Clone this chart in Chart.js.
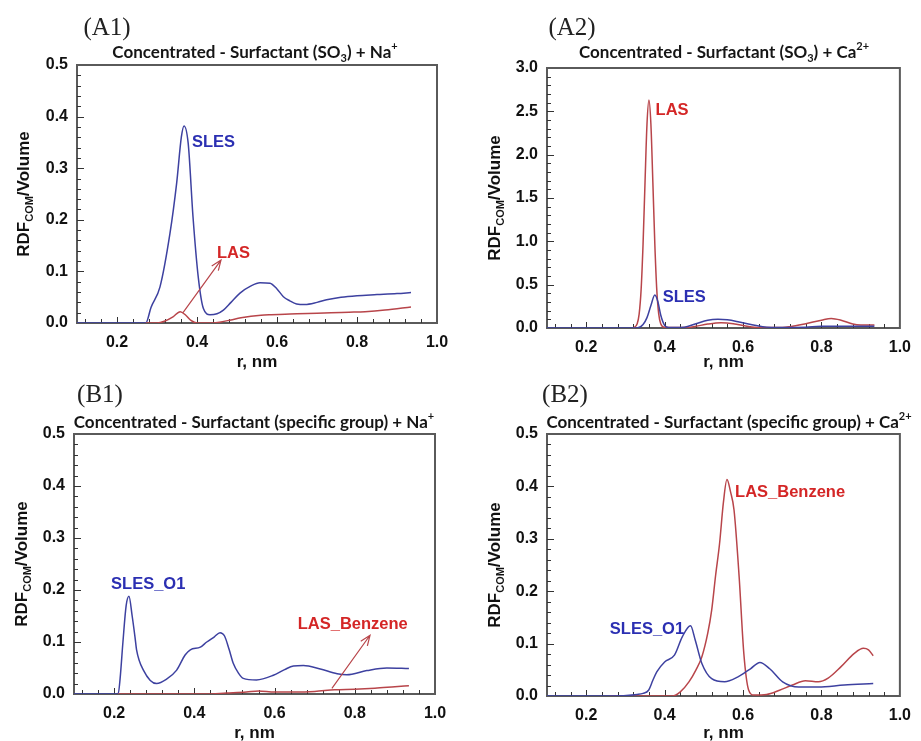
<!DOCTYPE html>
<html>
<head>
<meta charset="utf-8">
<script src="https://cdn.jsdelivr.net/npm/chart.js@4.4.1/dist/chart.umd.min.js"></script>
<style>
  html, body { margin: 0; padding: 0; background: #fff; }
  #fig { position: relative; width: 921px; height: 741px; overflow: hidden; background: #fff; }
  canvas { position: absolute; }
</style>
</head>
<body>
<div id="fig">
  <canvas id="pA1" width="460" height="370" style="left:0;top:0;width:460px;height:370px"></canvas>
  <canvas id="pA2" width="461" height="370" style="left:460px;top:0;width:461px;height:370px"></canvas>
  <canvas id="pB1" width="460" height="371" style="left:0;top:370px;width:460px;height:371px"></canvas>
  <canvas id="pB2" width="461" height="371" style="left:460px;top:370px;width:461px;height:371px"></canvas>
</div>
<script>
// ---- tick labels ----
const xTickValues = [0.2, 0.4, 0.6, 0.8, 1.0];
const yTicksSmall = [0.0, 0.1, 0.2, 0.3, 0.4, 0.5];
const yTicksLarge = [0.0, 0.5, 1.0, 1.5, 2.0, 2.5, 3.0];

// ---- (A1) SO3 + Na+ ----
const a1SlesR = [0.10, 0.272, 0.285, 0.3075, 0.3325, 0.349, 0.361, 0.3675, 0.378, 0.39, 0.403, 0.416, 0.4325, 0.45, 0.466, 0.485, 0.5075, 0.535, 0.5575, 0.5825, 0.60, 0.616, 0.632, 0.649, 0.67, 0.70, 0.724, 0.76, 0.80, 0.85, 0.90, 0.935];
const a1Sles  = [0, 0, 0.03, 0.07, 0.174, 0.27, 0.361, 0.382, 0.348, 0.206, 0.09, 0.028, 0.016, 0.018, 0.025, 0.04, 0.058, 0.072, 0.078, 0.077, 0.066, 0.051, 0.043, 0.037, 0.036, 0.04, 0.045, 0.05, 0.053, 0.055, 0.057, 0.059];
const a1LasR  = [0.272, 0.30, 0.32, 0.34, 0.358, 0.372, 0.385, 0.40, 0.44, 0.46, 0.485, 0.51, 0.535, 0.56, 0.585, 0.62, 0.65, 0.70, 0.735, 0.78, 0.82, 0.87, 0.935];
const a1Las   = [0, 0, 0.004, 0.012, 0.022, 0.015, 0.005, 0, 0, 0.002, 0.006, 0.01, 0.013, 0.015, 0.016, 0.017, 0.018, 0.019, 0.02, 0.021, 0.022, 0.025, 0.031];

// ---- (A2) SO3 + Ca2+ ----
const a2LasR  = [0.32, 0.33, 0.335, 0.34, 0.345, 0.35, 0.355, 0.36, 0.365, 0.37, 0.375, 0.38, 0.385, 0.39, 0.40, 0.46, 0.48, 0.51, 0.544, 0.575, 0.61, 0.64, 0.70, 0.72, 0.76, 0.80, 0.825, 0.85, 0.88, 0.90, 0.935];
const a2Las   = [0, 0.05, 0.16, 0.44, 0.97, 1.68, 2.35, 2.63, 2.35, 1.68, 0.97, 0.44, 0.16, 0.05, 0.01, 0.005, 0.02, 0.045, 0.06, 0.05, 0.02, 0.005, 0.005, 0.015, 0.05, 0.09, 0.11, 0.09, 0.045, 0.035, 0.035];
const a2SlesR = [0.10, 0.33, 0.345, 0.355, 0.365, 0.375, 0.383, 0.39, 0.40, 0.41, 0.45, 0.48, 0.51, 0.536, 0.56, 0.59, 0.62, 0.65, 0.70, 0.76, 0.80, 0.935];
const a2Sles  = [0, 0, 0.04, 0.12, 0.26, 0.38, 0.3, 0.15, 0.03, 0.005, 0.01, 0.05, 0.09, 0.10, 0.095, 0.07, 0.04, 0.015, 0.005, 0.01, 0.02, 0.02];

// ---- (B1) specific group + Na+ ----
const b1SlesR = [0.10, 0.21, 0.215, 0.222, 0.23, 0.237, 0.245, 0.252, 0.256, 0.273, 0.306, 0.33, 0.356, 0.377, 0.39, 0.415, 0.431, 0.45, 0.464, 0.475, 0.487, 0.497, 0.51, 0.522, 0.555, 0.597, 0.625, 0.647, 0.672, 0.714, 0.756, 0.78, 0.83, 0.88, 0.935];
const b1Sles  = [0, 0, 0.03, 0.10, 0.17, 0.188, 0.15, 0.11, 0.085, 0.046, 0.02, 0.028, 0.046, 0.075, 0.085, 0.09, 0.10, 0.11, 0.118, 0.112, 0.085, 0.059, 0.04, 0.03, 0.027, 0.036, 0.047, 0.054, 0.055, 0.048, 0.039, 0.037, 0.045, 0.05, 0.049];
const b1BenzR = [0.21, 0.43, 0.48, 0.53, 0.56, 0.60, 0.65, 0.70, 0.75, 0.80, 0.85, 0.90, 0.935];
const b1Benz  = [0, 0, 0.002, 0.004, 0.006, 0.004, 0.004, 0.005, 0.008, 0.009, 0.011, 0.014, 0.016];

// ---- (B2) specific group + Ca2+ ----
const b2BenzR = [0.26, 0.42, 0.44, 0.462, 0.48, 0.495, 0.51, 0.52, 0.53, 0.54, 0.55, 0.559, 0.568, 0.577, 0.59, 0.602, 0.614, 0.627, 0.66, 0.693, 0.726, 0.759, 0.792, 0.817, 0.85, 0.883, 0.907, 0.92, 0.932];
const b2Benz  = [0, 0, 0.008, 0.027, 0.05, 0.075, 0.12, 0.164, 0.23, 0.29, 0.37, 0.413, 0.39, 0.355, 0.228, 0.081, 0.012, 0.002, 0.003, 0.011, 0.021, 0.029, 0.027, 0.034, 0.056, 0.081, 0.091, 0.088, 0.077];
const b2SlesR = [0.10, 0.26, 0.33, 0.345, 0.359, 0.37, 0.38, 0.40, 0.425, 0.445, 0.466, 0.478, 0.495, 0.52, 0.553, 0.586, 0.619, 0.643, 0.668, 0.701, 0.742, 0.792, 0.858, 0.932];
const b2Sles  = [0, 0, 0.003, 0.005, 0.011, 0.03, 0.046, 0.065, 0.078, 0.113, 0.134, 0.107, 0.062, 0.033, 0.027, 0.036, 0.052, 0.064, 0.052, 0.027, 0.017, 0.017, 0.021, 0.024];

// ---- styling ----
const BLUE_LINE = '#3d41a0';
const RED_LINE = '#b8454a';
const BLUE_TEXT = '#2b2fb2';
const RED_TEXT = '#d42626';
const SANS = '"Liberation Sans", Arial, sans-serif';
const TITLE_FAMILY = 'Lato, "Open Sans", sans-serif';

// Draws a run of text pieces with optional sub/superscripts, centred on (cx, cy).
function drawRich(ctx, parts, cx, cy, size, family, weight, color) {
  const small = Math.round(size * 0.62);
  const fontOf = p => `${weight} ${p.sub || p.sup ? small : size}px ${family}`;
  let total = 0;
  parts.forEach(p => { ctx.font = fontOf(p); total += ctx.measureText(p.t).width; });
  let x = cx - total / 2;
  ctx.fillStyle = color;
  ctx.textAlign = 'left';
  ctx.textBaseline = 'alphabetic';
  const base = cy + size * 0.35;
  parts.forEach(p => {
    ctx.font = fontOf(p);
    let y = base;
    if (p.sub) y = base + size * 0.22;
    if (p.sup) y = base - size * 0.45;
    ctx.fillText(p.t, x, y);
    x += ctx.measureText(p.t).width;
  });
}

function drawArrow(ctx, x0, y0, x1, y1, color) {
  const ang = Math.atan2(y1 - y0, x1 - x0);
  const len = 11, spread = 0.38;
  ctx.save();
  ctx.strokeStyle = color;
  ctx.lineWidth = 1.2;
  ctx.beginPath();
  ctx.moveTo(x0, y0); ctx.lineTo(x1, y1);
  ctx.moveTo(x1 - len * Math.cos(ang - spread), y1 - len * Math.sin(ang - spread));
  ctx.lineTo(x1, y1);
  ctx.lineTo(x1 - len * Math.cos(ang + spread), y1 - len * Math.sin(ang + spread));
  ctx.stroke();
  ctx.restore();
}

// Frame, inward tick marks and all the figure text around each panel.
const decorPlugin = {
  id: 'decor',
  beforeDatasetsDraw(chart) {
    const { ctx, chartArea: a, scales: { x, y } } = chart;
    const cfg = chart.options.plugins.decor;
    ctx.save();
    // plot frame
    ctx.strokeStyle = '#5a5a5a';
    ctx.lineWidth = 2;
    ctx.strokeRect(a.left, a.top, a.right - a.left, a.bottom - a.top);

    ctx.strokeStyle = '#333';
    ctx.lineWidth = 1;
    // x ticks every 0.04, long ones at labelled values
    for (let k = 3; k <= 24; k++) {
      const v = k * 0.04;
      const major = xTickValues.some(t => Math.abs(t - v) < 1e-6);
      const px = Math.round(x.getPixelForValue(v)) + 0.5;
      ctx.beginPath();
      ctx.moveTo(px, a.bottom);
      ctx.lineTo(px, a.bottom - (major ? 6 : 4));
      ctx.stroke();
    }
    // y ticks: four minor ticks between labelled values
    const yt = cfg.yTicks;
    const step = (yt[1] - yt[0]) / 5;
    for (let k = 1; k < (yt.length - 1) * 5; k++) {
      const v = k * step;
      const major = k % 5 === 0;
      const py = Math.round(y.getPixelForValue(v)) + 0.5;
      ctx.beginPath();
      ctx.moveTo(a.left, py);
      ctx.lineTo(a.left + (major ? 7 : 4), py);
      ctx.stroke();
    }
    ctx.restore();
  },
  afterDatasetsDraw(chart) {
    const { ctx, chartArea: a, scales: { x, y } } = chart;
    const cfg = chart.options.plugins.decor;
    ctx.save();

    // arrows and curve labels, positioned on the data scales
    (cfg.arrows || []).forEach(ar => {
      drawArrow(ctx, x.getPixelForValue(ar.from[0]), y.getPixelForValue(ar.from[1]),
                x.getPixelForValue(ar.to[0]), y.getPixelForValue(ar.to[1]), RED_LINE);
    });
    cfg.labels.forEach(l => {
      ctx.font = `bold 16.5px ${SANS}`;
      ctx.fillStyle = l.color;
      ctx.textAlign = l.align;
      ctx.textBaseline = 'middle';
      ctx.fillText(l.text, x.getPixelForValue(l.r), y.getPixelForValue(l.v));
    });

    // panel tag
    ctx.font = '25px "Liberation Serif", "Times New Roman", serif';
    ctx.fillStyle = '#222';
    ctx.textAlign = 'center';
    ctx.textBaseline = 'middle';
    ctx.fillText(cfg.tag, cfg.tagPos[0], cfg.tagPos[1]);

    // panel title
    drawRich(ctx, cfg.title, cfg.titlePos[0], cfg.titlePos[1], 17, TITLE_FAMILY, 'bold', '#151515');

    // x axis title
    ctx.font = `bold 17px ${SANS}`;
    ctx.fillStyle = '#111';
    ctx.textAlign = 'center';
    ctx.textBaseline = 'middle';
    ctx.fillText('r, nm', (a.left + a.right) / 2, cfg.xTitleY);

    // y axis title (rotated)
    ctx.translate(cfg.yTitleX, (a.top + a.bottom) / 2);
    ctx.rotate(-Math.PI / 2);
    drawRich(ctx, [{ t: 'RDF' }, { t: 'COM', sub: true }, { t: '/Volume' }], 0, 0, 17, SANS, 'bold', '#111');
    ctx.restore();
  }
};

function series(rs, vs, color) {
  return {
    data: rs.map((r, i) => ({ x: r, y: vs[i] })),
    borderColor: color,
    borderWidth: 1.5,
    pointRadius: 0,
    fill: false,
    cubicInterpolationMode: 'monotone'
  };
}

function makePanel(id, box, yMax, yTicks, datasets, decor) {
  const canvas = document.getElementById(id);
  const W = canvas.width, H = canvas.height;
  decor.yTicks = yTicks;
  return new Chart(canvas, {
    type: 'line',
    data: { datasets },
    options: {
      responsive: false,
      animation: false,
      events: [],
      layout: { padding: { left: 0, top: box.top, right: W - box.right, bottom: 0 } },
      plugins: { legend: { display: false }, tooltip: { enabled: false }, decor },
      scales: {
        x: {
          type: 'linear', min: 0.1, max: 1.0,
          afterBuildTicks: s => { s.ticks = xTickValues.map(v => ({ value: v })); },
          afterFit: s => { s.height = H - box.bottom; },
          grid: { display: false, drawTicks: false },
          border: { display: false },
          ticks: { padding: 10, autoSkip: false, maxRotation: 0, color: '#111',
                   font: { family: SANS, size: 16, weight: 'bold' },
                   callback: v => Number(v).toFixed(1) }
        },
        y: {
          type: 'linear', min: 0, max: yMax,
          afterBuildTicks: s => { s.ticks = yTicks.map(v => ({ value: v })); },
          afterFit: s => { s.width = box.left; },
          grid: { display: false, drawTicks: false },
          border: { display: false },
          ticks: { padding: 9, autoSkip: false, color: '#111',
                   font: { family: SANS, size: 16, weight: 'bold' },
                   callback: v => Number(v).toFixed(1) }
        }
      }
    },
    plugins: [decorPlugin]
  });
}

makePanel('pA1', { left: 77, right: 437, top: 65, bottom: 323 }, 0.5, yTicksSmall,
  [series(a1LasR, a1Las, RED_LINE), series(a1SlesR, a1Sles, BLUE_LINE)],
  {
    tag: '(A1)', tagPos: [107, 28], titlePos: [255, 52], xTitleY: 362, yTitleX: 23,
    title: [{ t: 'Concentrated - Surfactant (SO' }, { t: '3', sub: true }, { t: ') + Na' }, { t: '+', sup: true }],
    arrows: [{ from: [0.365, 0.02], to: [0.46, 0.122] }],
    labels: [
      { text: 'SLES', r: 0.3875, v: 0.35, color: BLUE_TEXT, align: 'left' },
      { text: 'LAS', r: 0.45, v: 0.134, color: RED_TEXT, align: 'left' }
    ]
  });

makePanel('pA2', { left: 87, right: 451, top: 68, bottom: 328 }, 3.0, yTicksLarge,
  [series(a2SlesR, a2Sles, BLUE_LINE), series(a2LasR, a2Las, RED_LINE)],
  {
    tag: '(A2)', tagPos: [112, 28], titlePos: [264, 52], xTitleY: 362, yTitleX: 34,
    title: [{ t: 'Concentrated - Surfactant (SO' }, { t: '3', sub: true }, { t: ') + Ca' }, { t: '2+', sup: true }],
    labels: [
      { text: 'LAS', r: 0.377, v: 2.51, color: RED_TEXT, align: 'left' },
      { text: 'SLES', r: 0.395, v: 0.35, color: BLUE_TEXT, align: 'left' }
    ]
  });

makePanel('pB1', { left: 74, right: 435, top: 64, bottom: 324 }, 0.5, yTicksSmall,
  [series(b1BenzR, b1Benz, RED_LINE), series(b1SlesR, b1Sles, BLUE_LINE)],
  {
    tag: '(B1)', tagPos: [100, 25], titlePos: [254, 52], xTitleY: 363, yTitleX: 21,
    title: [{ t: 'Concentrated - Surfactant (specific group) + Na' }, { t: '+', sup: true }],
    arrows: [{ from: [0.743, 0.011], to: [0.838, 0.113] }],
    labels: [
      { text: 'SLES_O1', r: 0.285, v: 0.21, color: BLUE_TEXT, align: 'center' },
      { text: 'LAS_Benzene', r: 0.795, v: 0.133, color: RED_TEXT, align: 'center' }
    ]
  });

makePanel('pB2', { left: 87, right: 451, top: 64, bottom: 326 }, 0.5, yTicksSmall,
  [series(b2SlesR, b2Sles, BLUE_LINE), series(b2BenzR, b2Benz, RED_LINE)],
  {
    tag: '(B2)', tagPos: [105, 25], titlePos: [269, 52], xTitleY: 363, yTitleX: 34,
    title: [{ t: 'Concentrated - Surfactant (specific group) + Ca' }, { t: '2+', sup: true }],
    labels: [
      { text: 'SLES_O1', r: 0.355, v: 0.127, color: BLUE_TEXT, align: 'center' },
      { text: 'LAS_Benzene', r: 0.72, v: 0.388, color: RED_TEXT, align: 'center' }
    ]
  });
</script>
</body>
</html>
